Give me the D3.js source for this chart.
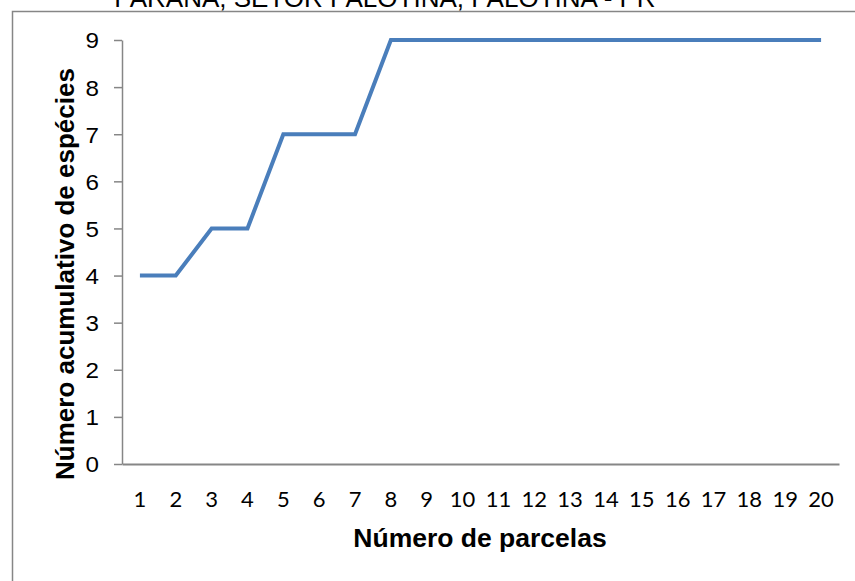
<!DOCTYPE html>
<html>
<head>
<meta charset="utf-8">
<script src="https://cdn.jsdelivr.net/npm/d3@7"></script>
<style>
  html, body { margin: 0; padding: 0; background: #fff; }
  svg { display: block; }
</style>
</head>
<body>
<svg id="chart" width="855" height="581"></svg>
<script>
// Curva acumulativa de espécies por parcela
const parcelas = ["1","2","3","4","5","6","7","8","9","10","11","12","13","14","15","16","17","18","19","20"];
const especies = [4, 4, 5, 5, 7, 7, 7, 9, 9, 9, 9, 9, 9, 9, 9, 9, 9, 9, 9, 9];
const yTicks = [0, 1, 2, 3, 4, 5, 6, 7, 8, 9];
const titleText = "PARANÁ, SETOR PALOTINA, PALOTINA - PR";
const yTitle = "Número acumulativo de espécies";
const xTitle = "Número de parcelas";

const svg = d3.select("#chart");
const axisColor = "#868686";
const sans = "Liberation Sans, Arial, sans-serif";

// Chart frame (extends past the visible area on the right and bottom)
svg.append("rect")
  .attr("x", 12.5).attr("y", 11.5)
  .attr("width", 900).attr("height", 700)
  .attr("fill", "none").attr("stroke", axisColor).attr("stroke-width", 1.5);

// Title (only the last line shows above the frame)
svg.append("text")
  .attr("x", 385).attr("y", 7)
  .attr("text-anchor", "middle")
  .attr("font-family", sans)
  .attr("font-size", 26)
  .attr("fill", "#000")
  .text(titleText);

const plot = { left: 122, right: 839, top: 40, bottom: 464 };

const x = d3.scaleBand().domain(parcelas).range([plot.left, plot.right]);
const y = d3.scaleLinear().domain([0, 9]).range([plot.bottom, plot.top]);

// Y axis
const yLabelScale = 1.1;
const yAxis = svg.append("g")
  .attr("transform", `translate(${plot.left},0)`)
  .call(d3.axisLeft(y).tickValues(yTicks).tickSize(8).tickPadding(15).tickSizeOuter(0));
yAxis.select(".domain").attr("stroke", axisColor).attr("stroke-width", 1.5);
yAxis.selectAll(".tick line").attr("stroke", axisColor).attr("stroke-width", 1.5);
yAxis.selectAll(".tick text")
  .attr("x", -23 / yLabelScale)
  .attr("dy", "0.36em")
  .attr("transform", `scale(${yLabelScale},1)`)
  .attr("font-family", sans)
  .attr("font-size", 22)
  .attr("fill", "#000");

// X axis
const xAxis = svg.append("g")
  .attr("transform", `translate(0,${plot.bottom})`)
  .call(d3.axisBottom(x).tickSize(0).tickPadding(27).tickSizeOuter(0));
xAxis.select(".domain").attr("stroke", axisColor).attr("stroke-width", 2);
xAxis.selectAll(".tick text")
  .attr("font-family", "Lato, 'Open Sans', sans-serif")
  .attr("font-size", 22)
  .attr("fill", "#000");

// Axis titles
svg.append("text")
  .attr("transform", `translate(74,274) rotate(-90)`)
  .attr("text-anchor", "middle")
  .attr("font-family", sans)
  .attr("font-weight", "bold")
  .attr("font-size", 26)
  .attr("fill", "#000")
  .text(yTitle);

svg.append("text")
  .attr("x", 480).attr("y", 547)
  .attr("text-anchor", "middle")
  .attr("font-family", sans)
  .attr("font-weight", "bold")
  .attr("font-size", 26.5)
  .attr("fill", "#000")
  .text(xTitle);

// Series line
const line = d3.line()
  .x((d, i) => x(parcelas[i]) + x.bandwidth() / 2)
  .y(d => y(d));

svg.append("path")
  .datum(especies)
  .attr("d", line)
  .attr("fill", "none")
  .attr("stroke", "#4a7ebb")
  .attr("stroke-width", 4)
  .attr("stroke-linejoin", "miter")
  .attr("stroke-linecap", "butt");
</script>
</body>
</html>
